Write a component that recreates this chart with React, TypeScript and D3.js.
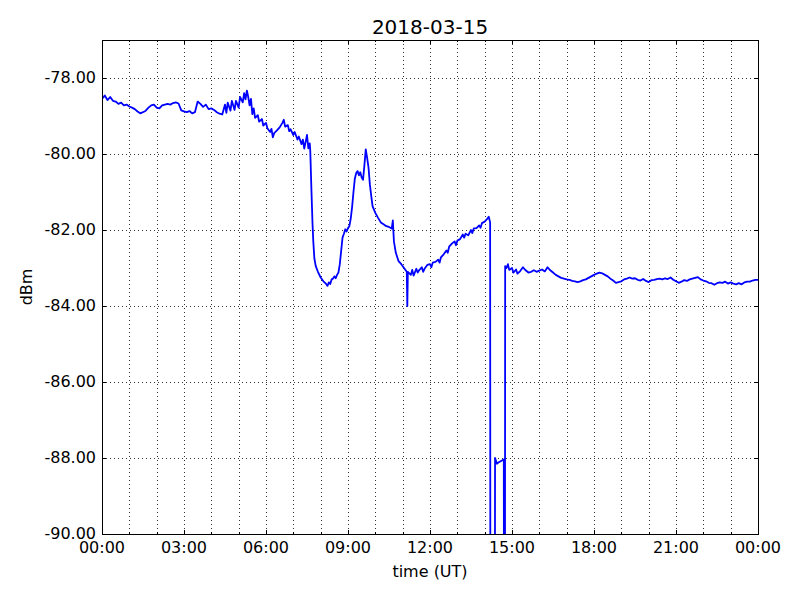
import React from "react";
import * as d3 from "d3";

const TITLE = "2018-03-15";
const X_LABEL = "time (UT)";
const Y_LABEL = "dBm";

const xMajorTicks = [0, 3, 6, 9, 12, 15, 18, 21, 24];
const xTickLabels = ["00:00", "03:00", "06:00", "09:00", "12:00", "15:00", "18:00", "21:00", "00:00"];
const xMinorTicks = d3.range(0, 25, 1);
const yTicks = [-90, -88, -86, -84, -82, -80, -78];
const yTickLabels = ["-90.00", "-88.00", "-86.00", "-84.00", "-82.00", "-80.00", "-78.00"];

// hours since 00:00 UT
const hours: number[] = [
  0.0, 0.1, 0.2, 0.3, 0.4, 0.5, 0.6, 0.7, 0.8, 0.9, 1.0,
  1.1, 1.2, 1.3, 1.4, 1.5, 1.6, 1.7, 1.8, 1.9, 2.0,
  2.1, 2.2, 2.3, 2.4, 2.5, 2.6, 2.7, 2.8, 2.9, 3.0,
  3.1, 3.2, 3.3, 3.4, 3.5, 3.6, 3.7, 3.8, 3.9, 4.0,
  4.1, 4.2, 4.3, 4.4, 4.5, 4.55, 4.6, 4.7, 4.75, 4.85, 4.9, 5.0, 5.05, 5.15, 5.2, 5.25, 5.3, 5.35, 5.4, 5.45,
  5.5, 5.55, 5.6, 5.7, 5.75, 5.85, 5.9, 6.0, 6.05, 6.15, 6.2, 6.25, 6.3, 6.4, 6.5, 6.6, 6.65, 6.7, 6.8, 6.85,
  6.9, 7.0, 7.05, 7.15, 7.2, 7.3, 7.35, 7.4, 7.45, 7.5, 7.55, 7.6, 7.62,
  7.66, 7.7, 7.73, 7.77, 7.82, 7.9, 8.0, 8.1, 8.2, 8.25, 8.3, 8.35, 8.4, 8.45, 8.5, 8.55, 8.6, 8.65,
  8.7, 8.75, 8.8, 8.85, 8.9, 8.95, 9.0, 9.05, 9.1, 9.15, 9.2, 9.25, 9.3, 9.35, 9.4, 9.45, 9.5, 9.55,
  9.6, 9.65, 9.7, 9.75, 9.8, 9.85, 9.9, 10.0, 10.1, 10.2, 10.3, 10.4, 10.5, 10.6, 10.64, 10.68,
  10.75, 10.85, 10.95, 11.05, 11.15, 11.17, 11.19, 11.3, 11.35, 11.4, 11.5, 11.55, 11.6, 11.7, 11.75, 11.8,
  11.9, 12.0, 12.05, 12.1, 12.2, 12.3, 12.35, 12.4, 12.5, 12.6, 12.65, 12.7, 12.8, 12.9, 12.95, 13.0,
  13.1, 13.2, 13.25, 13.3, 13.4, 13.5, 13.55, 13.6, 13.7, 13.8, 13.85, 13.9, 14.0, 14.1, 14.15, 14.2,
  14.21, 14.37, 14.38, 14.45, 14.5, 14.6, 14.7, 14.71, 14.74, 14.75,
  14.8, 14.85, 14.9, 15.0, 15.05, 15.15, 15.2, 15.3, 15.4, 15.5, 15.6, 15.7, 15.8, 15.9, 16.0,
  16.1, 16.2, 16.3, 16.4, 16.5, 16.6, 16.7, 16.8, 16.9, 17.0, 17.1, 17.2, 17.3, 17.4, 17.5,
  17.6, 17.7, 17.8, 17.9, 18.0, 18.1, 18.2, 18.3, 18.4, 18.5, 18.6, 18.7, 18.8, 18.9, 19.0,
  19.1, 19.2, 19.3, 19.4, 19.5, 19.6, 19.7, 19.8, 19.9, 20.0, 20.1, 20.2, 20.3, 20.4, 20.5,
  20.6, 20.7, 20.8, 20.9, 21.0, 21.1, 21.2, 21.3, 21.4, 21.5, 21.6, 21.7, 21.8, 21.9, 22.0,
  22.1, 22.2, 22.3, 22.4, 22.5, 22.6, 22.7, 22.8, 22.9, 23.0, 23.1, 23.2, 23.3, 23.4, 23.5,
  23.6, 23.7, 23.8, 23.9, 24.0,
];

// received level, dBm (values below -90 are off the bottom of the plot)
const levels: number[] = [
  -78.55, -78.46, -78.58, -78.5, -78.6, -78.62, -78.68, -78.65, -78.72, -78.7, -78.75,
  -78.78, -78.82, -78.88, -78.93, -78.9, -78.86, -78.78, -78.72, -78.7, -78.78,
  -78.8, -78.72, -78.7, -78.68, -78.7, -78.66, -78.64, -78.67, -78.85, -78.88,
  -78.9, -78.87, -78.93, -78.9, -78.62, -78.68, -78.76, -78.7, -78.82, -78.8,
  -78.84, -78.9, -78.94, -78.96, -78.7, -78.92, -78.65, -78.86, -78.6, -78.84, -78.6, -78.78, -78.5, -78.64, -78.4, -78.56, -78.33, -78.5, -78.72, -78.55,
  -78.95, -78.8, -79.05, -78.98, -79.15, -79.08, -79.25, -79.18, -79.32, -79.42, -79.34, -79.56, -79.45, -79.38, -79.3, -79.18, -79.1, -79.28, -79.24, -79.4,
  -79.35, -79.5, -79.42, -79.62, -79.54, -79.74, -79.62, -79.86, -79.68, -79.5, -79.85, -79.72, -79.92,
  -80.9, -81.8, -82.3, -82.75, -82.95, -83.1, -83.25, -83.35, -83.42, -83.47, -83.38, -83.42, -83.3, -83.28, -83.22, -83.27, -83.18, -83.12,
  -82.9, -82.55, -82.2, -82.1, -81.98, -82.04, -81.95, -81.9, -81.7, -81.4, -81.0, -80.65, -80.5, -80.45, -80.56, -80.48, -80.62, -80.68,
  -80.3, -79.88, -80.1, -80.35, -80.8, -81.1, -81.38, -81.55, -81.68, -81.8, -81.85, -81.9, -81.92, -81.96, -81.75, -82.3,
  -82.6, -82.82, -82.9, -83.0, -83.1, -84.0, -83.1, -83.18, -83.05, -83.2, -83.02, -83.12, -83.06, -82.98, -83.1, -83.02,
  -82.92, -82.9, -82.98, -82.86, -82.84, -82.78, -82.86, -82.72, -82.64, -82.54, -82.6, -82.44, -82.36, -82.3, -82.4, -82.28,
  -82.24, -82.12, -82.2, -82.1, -82.14, -82.0, -82.08, -81.96, -81.95, -81.88, -81.94, -81.82, -81.78, -81.7, -81.65, -81.8,
  -95, -95, -88.0, -88.15, -88.12, -88.08, -88.04, -95, -95, -82.95,
  -83.0, -82.9, -83.05, -83.0, -83.12, -83.04, -83.15, -83.08, -82.98, -83.06, -83.12, -83.1, -83.06, -83.1, -83.07,
  -83.04, -83.09, -82.98, -83.06, -83.12, -83.18, -83.22, -83.26, -83.28, -83.3, -83.31, -83.34, -83.35, -83.37, -83.35,
  -83.32, -83.3, -83.26, -83.22, -83.18, -83.15, -83.12, -83.14, -83.18, -83.22, -83.28, -83.33, -83.39, -83.37, -83.35,
  -83.3, -83.28, -83.25, -83.28, -83.27, -83.31, -83.33, -83.29, -83.34, -83.37, -83.32, -83.31, -83.29, -83.28, -83.3,
  -83.27, -83.29, -83.25, -83.31, -83.35, -83.39, -83.36, -83.32, -83.34, -83.3, -83.28, -83.26, -83.24, -83.3, -83.33,
  -83.35, -83.39, -83.4, -83.44, -83.4, -83.38, -83.39, -83.36, -83.41, -83.38, -83.41, -83.43, -83.4, -83.43, -83.38,
  -83.36, -83.36, -83.33, -83.31, -83.31,
];

const W = 800;
const H = 600;
const M = { left: 102, right: 758, top: 40, bottom: 534 };
const FONT = "'DejaVu Sans', sans-serif";

export default function App() {
  const x = d3.scaleLinear().domain([0, 24]).range([M.left, M.right]);
  const y = d3.scaleLinear().domain([-90, -77]).range([M.bottom, M.top]);
  const data = hours.map((h, i) => [h, levels[i]] as [number, number]);
  const line = d3
    .line<[number, number]>()
    .x((d) => x(d[0]))
    .y((d) => y(d[1]));

  return (
    <svg
      width={W}
      height={H}
      style={{ position: "absolute", left: 0, top: 0, background: "#fff" }}
      fontFamily={FONT}
    >
      <rect x={0} y={0} width={W} height={H} fill="#fff" />
      <defs>
        <clipPath id="plotclip">
          <rect x={M.left} y={M.top} width={M.right - M.left} height={M.bottom - M.top} />
        </clipPath>
      </defs>
      {/* grid */}
      <g stroke="#000" strokeWidth={1} strokeDasharray="1,3" opacity={0.8}>
        {xMinorTicks
          .filter((t) => t > 0 && t < 24)
          .map((t) => (
            <line key={"gx" + t} x1={Math.round(x(t)) + 0.5} x2={Math.round(x(t)) + 0.5} y1={M.top} y2={M.bottom} />
          ))}
        {yTicks
          .filter((t) => t > -90)
          .map((t) => (
            <line key={"gy" + t} x1={M.left} x2={M.right} y1={Math.round(y(t)) + 0.5} y2={Math.round(y(t)) + 0.5} />
          ))}
      </g>
      {/* data */}
      <path
        d={line(data) || ""}
        fill="none"
        stroke="#0000ff"
        strokeWidth={1.8}
        strokeLinejoin="round"
        clipPath="url(#plotclip)"
      />
      {/* ticks */}
      <g stroke="#000" strokeWidth={1}>
        {xMajorTicks.map((t) => (
          <g key={"tx" + t}>
            <line x1={Math.round(x(t)) + 0.5} x2={Math.round(x(t)) + 0.5} y1={M.bottom} y2={M.bottom - 4} />
            <line x1={Math.round(x(t)) + 0.5} x2={Math.round(x(t)) + 0.5} y1={M.top} y2={M.top + 4} />
          </g>
        ))}
        {xMinorTicks.map((t) => (
          <g key={"mx" + t}>
            <line x1={Math.round(x(t)) + 0.5} x2={Math.round(x(t)) + 0.5} y1={M.bottom} y2={M.bottom - 2} />
            <line x1={Math.round(x(t)) + 0.5} x2={Math.round(x(t)) + 0.5} y1={M.top} y2={M.top + 2} />
          </g>
        ))}
        {yTicks.map((t) => (
          <g key={"ty" + t}>
            <line x1={M.left} x2={M.left + 4} y1={Math.round(y(t)) + 0.5} y2={Math.round(y(t)) + 0.5} />
            <line x1={M.right} x2={M.right - 4} y1={Math.round(y(t)) + 0.5} y2={Math.round(y(t)) + 0.5} />
          </g>
        ))}
      </g>
      {/* frame */}
      <rect
        x={M.left + 0.5}
        y={M.top + 0.5}
        width={M.right - M.left}
        height={M.bottom - M.top}
        fill="none"
        stroke="#000"
        strokeWidth={1}
      />
      {/* tick labels */}
      <g fontSize={16} fill="#000">
        {xMajorTicks.map((t, i) => (
          <text key={"lx" + i} x={x(t)} y={M.bottom + 19} textAnchor="middle">
            {xTickLabels[i]}
          </text>
        ))}
        {yTicks.map((t, i) => (
          <text key={"ly" + t} x={M.left - 6} y={y(t) - 1} textAnchor="end" dominantBaseline="central">
            {yTickLabels[i]}
          </text>
        ))}
      </g>
      <text x={(M.left + M.right) / 2} y={34} textAnchor="middle" fontSize={20}>
        {TITLE}
      </text>
      <text x={(M.left + M.right) / 2} y={577} textAnchor="middle" fontSize={16}>
        {X_LABEL}
      </text>
      <text
        transform={`translate(32,${(M.top + M.bottom) / 2}) rotate(-90)`}
        textAnchor="middle"
        fontSize={16}
      >
        {Y_LABEL}
      </text>
    </svg>
  );
}
